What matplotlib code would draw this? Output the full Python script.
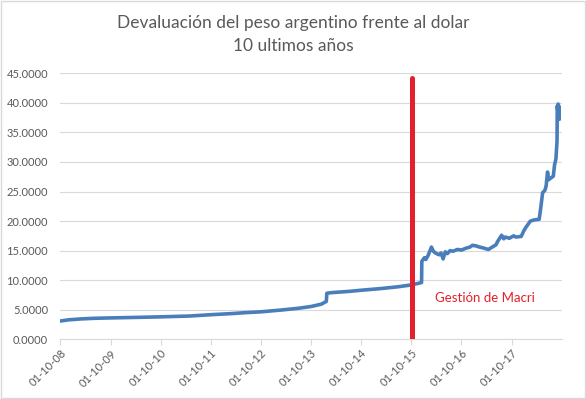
import matplotlib
matplotlib.use('Agg')
import matplotlib.pyplot as plt
import matplotlib.dates as mdates
from matplotlib.patches import Rectangle
import pandas as pd

# tipo de cambio
fechas = ['2008-10-01', '2008-12-01', '2009-03-01', '2009-06-01', '2009-10-01',
          '2010-05-01', '2010-10-01', '2011-05-01', '2011-10-01', '2012-03-01',
          '2012-06-01', '2012-10-01', '2013-03-01', '2013-07-01', '2013-10-01',
          '2013-12-15', '2014-01-20', '2014-01-24', '2014-03-01', '2014-07-01',
          '2014-10-01', '2015-03-01', '2015-07-01', '2015-10-01', '2015-12-15',
          '2015-12-17', '2016-01-05', '2016-01-15', '2016-02-01', '2016-02-25',
          '2016-03-10', '2016-03-25', '2016-04-20', '2016-05-05', '2016-05-20',
          '2016-06-05', '2016-06-20', '2016-07-10', '2016-08-01', '2016-09-01',
          '2016-10-01', '2016-11-01', '2016-12-01', '2016-12-20', '2017-01-15',
          '2017-02-10', '2017-03-01', '2017-04-15', '2017-05-20', '2017-06-10',
          '2017-06-20', '2017-07-20', '2017-08-05', '2017-08-15', '2017-09-15',
          '2017-10-15', '2017-11-01', '2017-12-10', '2017-12-28', '2018-01-15',
          '2018-02-15', '2018-03-15', '2018-04-20', '2018-05-03', '2018-05-15',
          '2018-06-01', '2018-06-10', '2018-06-20', '2018-06-28', '2018-07-15',
          '2018-08-01', '2018-08-10', '2018-08-20', '2018-08-28', '2018-08-30',
          '2018-09-03', '2018-09-05', '2018-09-07', '2018-09-10', '2018-09-13']
valores = [3.10, 3.30, 3.45, 3.55, 3.62,
           3.72, 3.80, 3.94, 4.16, 4.35,
           4.50, 4.65, 4.96, 5.25, 5.55,
           5.95, 6.40, 7.80, 7.90, 8.10,
           8.30, 8.60, 8.90, 9.20, 9.60,
           13.2, 13.8, 13.5, 14.2, 15.6,
           14.9, 14.6, 14.3, 14.6, 13.6,
           14.8, 14.5, 15.0, 14.9, 15.2,
           15.1, 15.4, 15.6, 15.9, 15.8,
           15.6, 15.5, 15.2, 15.7, 16.0,
           16.5, 17.6, 17.0, 17.3, 17.1,
           17.5, 17.3, 17.4, 18.3, 19.0,
           20.0, 20.2, 20.3, 22.5, 24.8,
           25.2, 26.0, 28.3, 27.0, 27.3,
           27.6, 29.5, 30.5, 33.5, 39.5,
           38.5, 39.8, 37.2, 39.5, 37.3]

fecha_macri = '2015-10-09'
tope_macri = 44.2
tick_fechas = ['2008-10-01', '2009-10-01', '2010-10-01', '2011-10-01', '2012-10-01',
               '2013-10-01', '2014-10-01', '2015-10-01', '2016-10-01', '2017-10-01']

gris = '#595959'
plt.rcParams['font.family'] = ['Lato', 'DejaVu Sans']

fig = plt.figure(figsize=(5.86, 3.99), dpi=100)
ax = fig.add_axes([0.1032, 0.1496, 0.8553, 0.6667])

x = pd.to_datetime(fechas)
ax.plot(x, valores, color='#4A7EBB', linewidth=2.6, solid_joinstyle='round')
ax.vlines(pd.to_datetime(fecha_macri), 0, tope_macri, color='#E3202B',
          linewidth=3.6, capstyle='round', zorder=3)
ax.text(pd.to_datetime('2017-03-20'), 7.0, 'Gestión de Macri', color='#E3202B',
        fontsize=9.5, ha='center', va='center')

ax.set_ylim(0, 45)
ax.set_xlim(pd.to_datetime('2008-10-01'), pd.to_datetime('2018-10-01'))
ax.set_yticks(range(0, 46, 5))
ax.yaxis.set_major_formatter(plt.FuncFormatter(lambda v, p: '%.4f' % v))
ax.set_xticks(pd.to_datetime(tick_fechas))
ax.xaxis.set_major_formatter(mdates.DateFormatter('%d-%m-%y'))
ax.grid(axis='y', color='#D9D9D9', linewidth=0.8)
ax.set_axisbelow(True)
for s in ['top', 'right', 'left']:
    ax.spines[s].set_visible(False)
ax.spines['bottom'].set_color('#D9D9D9')
ax.tick_params(axis='y', length=0, pad=9, labelsize=8, labelcolor=gris)
ax.tick_params(axis='x', length=4, color='#D9D9D9', pad=2, labelsize=8, labelcolor=gris)
plt.setp(ax.get_xticklabels(), rotation=45, ha='right', rotation_mode='anchor')

fig.text(0.5, 0.93, 'Devaluación del peso argentino frente al dolar',
         ha='center', va='baseline', fontsize=12.5, color=gris)
fig.text(0.5, 0.872, '10 ultimos años', ha='center', va='baseline', fontsize=12.5, color=gris)

fig.patches.append(Rectangle((0.001, 0.002), 0.997, 0.996, transform=fig.transFigure,
                             fill=False, edgecolor='#D9D9D9', linewidth=1))

fig.savefig('out.png', dpi=100)
